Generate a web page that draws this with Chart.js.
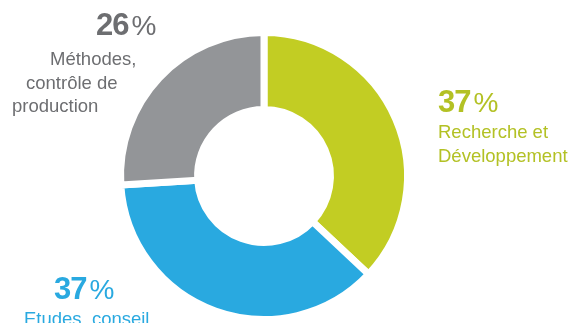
<!DOCTYPE html>
<html>
<head>
<meta charset="utf-8">
<script src="https://cdn.jsdelivr.net/npm/chart.js@4"></script>
<style>
  html, body { margin: 0; padding: 0; background: #fff; }
  .wrap { position: relative; width: 574px; height: 323px; overflow: hidden; }
  canvas { position: absolute; left: 0; top: 0; }
  .lbl { position: absolute; font-family: "Liberation Sans", Arial, sans-serif; white-space: nowrap; }
  .pct { font-weight: bold; font-size: 31px; line-height: 32px; letter-spacing: -1px; }
  .pct span { font-weight: normal; font-size: 28px; letter-spacing: 0; margin-left: 3px; }
  .txt { font-size: 18.5px; line-height: 23.5px; }
</style>
</head>
<body>
<div class="wrap" id="wrap">
  <canvas id="chart" width="574" height="323"></canvas>
</div>
<script>
  const categories = ["Recherche et Développement", "Etudes, conseil", "Méthodes, contrôle de production"];
  const shares = [37, 37, 26];
  const labelLines = [
    ["Recherche et", "Développement"],
    ["Etudes, conseil"],
    ["Méthodes,", "contrôle de", "production"],
  ];

  const sliceColors = ["#c2cd23", "#29a9e0", "#939598"];
  const textColors = ["#b3c124", "#29a9e0", "#6d6e71"];
  // where each label block sits; indents shift single lines (slanted text in the original)
  const labelPos = [
    { pctLeft: 438, pctTop: 86, left: 438, top: 120, indents: [0, 0] },
    { pctLeft: 54, pctTop: 273, left: 24, top: 307, indents: [0] },
    { pctLeft: 96, pctTop: 9, left: 12, top: 47, indents: [38, 14, 0] },
  ];

  new Chart(document.getElementById("chart"), {
    type: "doughnut",
    data: {
      labels: categories,
      datasets: [
        {
          data: shares,
          backgroundColor: sliceColors,
          borderColor: "#ffffff",
          borderWidth: 7,
          hoverOffset: 0,
        },
      ],
    },
    options: {
      responsive: false,
      animation: false,
      cutout: "46.3%",
      rotation: 0,
      layout: { padding: { top: 29, bottom: 0, left: 0, right: 46 } },
      plugins: {
        legend: { display: false },
        tooltip: { enabled: false },
      },
    },
  });

  const wrap = document.getElementById("wrap");
  shares.forEach((v, i) => {
    const p = labelPos[i];
    const pct = document.createElement("div");
    pct.className = "lbl pct";
    pct.style.color = textColors[i];
    pct.innerHTML = v + "<span>%</span>";
    pct.style.left = p.pctLeft + "px";
    pct.style.top = p.pctTop + "px";
    wrap.appendChild(pct);

    const txt = document.createElement("div");
    txt.className = "lbl txt";
    txt.style.color = textColors[i];
    txt.style.left = p.left + "px";
    txt.style.top = p.top + "px";
    labelLines[i].forEach((line, j) => {
      const d = document.createElement("div");
      d.textContent = line;
      d.style.marginLeft = p.indents[j] + "px";
      txt.appendChild(d);
    });
    wrap.appendChild(txt);
  });
</script>
</body>
</html>
